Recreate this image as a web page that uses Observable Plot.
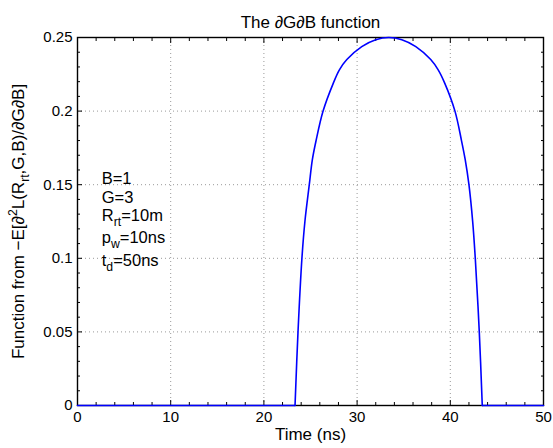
<!DOCTYPE html>
<html><head><meta charset="utf-8">
<script src="https://cdn.jsdelivr.net/npm/d3@7"></script>
<script src="https://cdn.jsdelivr.net/npm/@observablehq/plot@0.6"></script>
<style>html,body{margin:0;padding:0;background:#fff} svg{display:block}</style>
</head><body><div id="chart"></div>
<script>
// ---- data ----
const timeNs = [0, 23.34, 23.66, 24.08, 24.4, 24.87, 25.2, 25.6, 26.35, 27.45, 28.1, 28.9, 30.5, 32.0, 33.4, 34.8, 36.3, 37.9, 38.7, 39.4, 40.5, 41.2, 41.6, 42.0, 42.4, 42.68, 43.11, 43.43, 50];
const fValue = [0, 0, 0.05, 0.10, 0.125, 0.15, 0.167, 0.18, 0.20, 0.219, 0.228, 0.235, 0.2438, 0.2485, 0.25, 0.2485, 0.2438, 0.235, 0.228, 0.219, 0.20, 0.18, 0.167, 0.15, 0.125, 0.10, 0.05, 0, 0];
const xTicks = [0, 10, 20, 30, 40, 50];
const xTickLabels = ["0", "10", "20", "30", "40", "50"];
const xMinorTicks = [2, 4, 6, 8, 12, 14, 16, 18, 22, 24, 26, 28, 32, 34, 36, 38, 42, 44, 46, 48];
const yTicks = [0, 0.05, 0.1, 0.15, 0.2, 0.25];
const yTickLabels = ["0", "0.05", "0.1", "0.15", "0.2", "0.25"];
const yMinorTicks = [0.01, 0.02, 0.03, 0.04, 0.06, 0.07, 0.08, 0.09, 0.11, 0.12, 0.13, 0.14, 0.16, 0.17, 0.18, 0.19, 0.21, 0.22, 0.23, 0.24];
const paramNames = ["B", "G", "R_{rt}", "p_{w}", "t_{d}"];
const paramValues = ["1", "3", "10m", "10ns", "50ns"];
const titleText = "The ∂G∂B function";
const xLabelText = "Time (ns)";
const yLabelText = "Function from −E[∂^{2}L(R_{rt},G,B)/∂G∂B]";

// ---- chart ----
const FS = 15;   // tick labels
const LFS = 17;  // title, axis labels
const AFS = 16.5; // annotation
const series = timeNs.map((t, i) => ({t, v: fValue[i]}));
const onStart = timeNs[1], onEnd = timeNs[timeNs.length - 2];
const paramLines = paramNames.map((n, i) => `${n}=${paramValues[i]}`);
const lineOffsets = [-6, 13, 31, 53, 76];

const tickAxes = [];
for (const anchor of ["bottom", "top"]) {
  tickAxes.push(Plot.axisX(xMinorTicks, {anchor, tickSize: -3, fill: "none", label: null, strokeWidth: 1}));
  tickAxes.push(Plot.axisX(xTicks, {anchor, tickSize: -5, fill: "none", label: null, strokeWidth: 1}));
}
for (const anchor of ["left", "right"]) {
  tickAxes.push(Plot.axisY(yMinorTicks, {anchor, tickSize: -3, fill: "none", label: null, strokeWidth: 1}));
  tickAxes.push(Plot.axisY(yTicks, {anchor, tickSize: -5, fill: "none", label: null, strokeWidth: 1}));
}

const lineStyle = {x: "t", y: "v", stroke: "#0000ff", strokeWidth: 1.6};
const svg = Plot.plot({
  width: 553, height: 448,
  marginLeft: 77, marginRight: 10, marginTop: 37, marginBottom: 43,
  style: {fontFamily: "'Liberation Sans', Arial, Helvetica, sans-serif", fontSize: FS + "px", color: "black", background: "white"},
  x: {domain: [0, 50]},
  y: {domain: [0, 0.25]},
  marks: [
    Plot.gridX([10, 20, 30, 40], {stroke: "#999", strokeOpacity: 1, strokeDasharray: "1,3"}),
    Plot.gridY([0.05, 0.1, 0.15, 0.2], {stroke: "#999", strokeOpacity: 1, strokeDasharray: "1,3"}),
    Plot.frame({stroke: "black", strokeWidth: 1.4}),
    ...tickAxes,
    Plot.axisX(xTicks, {anchor: "bottom", tickSize: 0, tickPadding: 6, tickFormat: (d, i) => xTickLabels[i], label: null}),
    Plot.axisY(yTicks, {anchor: "left", tickSize: 0, tickPadding: 5, tickFormat: (d, i) => yTickLabels[i], label: null}),
    // flat parts (before and after the pulse)
    Plot.line(series, {...lineStyle, filter: d => d.t <= onStart || d.t >= onEnd, z: d => d.t <= onStart ? "a" : "b"}),
    // pulse
    Plot.line(series, {...lineStyle, filter: d => d.t >= onStart && d.t <= onEnd, curve: "catmull-rom"}),
    Plot.text([xLabelText], {frameAnchor: "bottom", dy: 34, fontSize: LFS}),
    Plot.text([yLabelText], {frameAnchor: "left", textAnchor: "middle", rotate: -90, dx: -59, dy: 0, fontSize: LFS}),
    Plot.text([titleText], {frameAnchor: "top", dy: -22, fontSize: LFS}),
    ...paramLines.map((s, i) => Plot.text([s], {x: 2.6, y: 0.15, textAnchor: "start", dy: lineOffsets[i], fontSize: AFS}))
  ]
});

function richify(root) {
  d3.select(root).selectAll("text").each(function() {
    const s = this.textContent;
    if (!/[_^]\{/.test(s)) return;
    const el = d3.select(this);
    el.text(null);
    const parts = [];
    const re = /([_^])\{([^}]*)\}/g;
    let last = 0, m;
    while ((m = re.exec(s))) {
      if (m.index > last) parts.push({t: s.slice(last, m.index), k: 0});
      parts.push({t: m[2], k: m[1] === "_" ? 1 : -1});
      last = re.lastIndex;
    }
    if (last < s.length) parts.push({t: s.slice(last), k: 0});
    let cur = 0;
    for (const p of parts) {
      const off = p.k === 1 ? 0.32 * LFS : p.k === -1 ? -0.42 * LFS : 0;
      const ts = el.append("tspan").attr("dy", off - cur).text(p.t);
      if (p.k) ts.attr("font-size", (0.72 * LFS) + "px");
      cur = off;
    }
  });
}
richify(svg);
document.getElementById("chart").appendChild(svg);
</script>
</body></html>
